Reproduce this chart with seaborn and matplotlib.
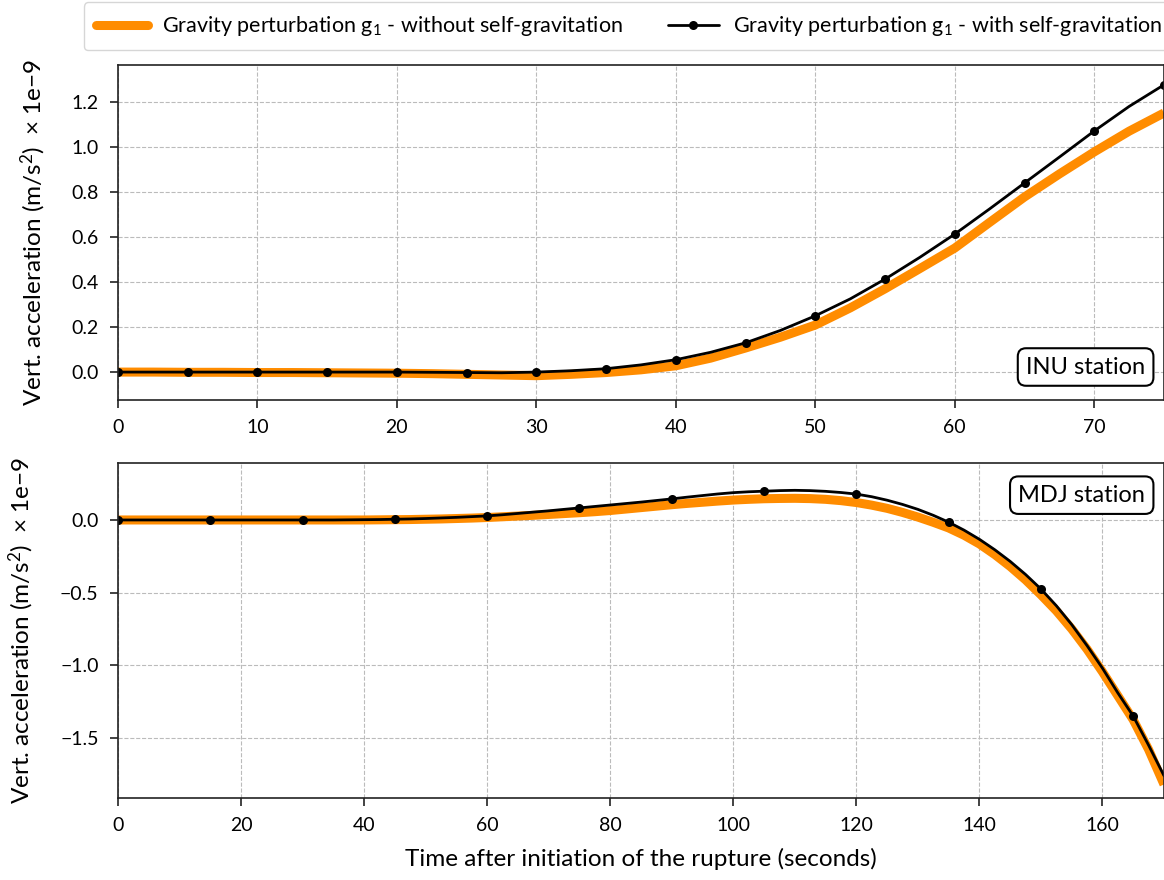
import numpy as np
import pandas as pd
import matplotlib
matplotlib.use("Agg")
import matplotlib.pyplot as plt
import seaborn as sns
from matplotlib.lines import Line2D

# ---------------- data ----------------
# INU station (time in s, values in 1e-9 m/s^2), every 2.5 s
inu_time = [0, 2.5, 5, 7.5, 10, 12.5, 15, 17.5, 20, 22.5, 25, 27.5, 30, 32.5, 35,
            37.5, 40, 42.5, 45, 47.5, 50, 52.5, 55, 57.5, 60, 62.5, 65, 67.5, 70, 72.5, 75]
inu_without = [0.0, 0.0, -0.001, -0.001, -0.002, -0.002, -0.003, -0.004, -0.005, -0.007, -0.010,
               -0.013, -0.016, -0.010, -0.002, 0.010, 0.028, 0.062, 0.107, 0.155, 0.209,
               0.285, 0.370, 0.460, 0.551, 0.665, 0.778, 0.880, 0.978, 1.070, 1.151]
inu_with = [0.0, 0.0, 0.0, 0.0, 0.0, 0.0, 0.0, 0.0, 0.0, -0.001, -0.002, -0.003, 0.0, 0.006,
            0.015, 0.032, 0.055, 0.088, 0.130, 0.185, 0.250, 0.325, 0.413, 0.510, 0.613,
            0.725, 0.840, 0.955, 1.071, 1.180, 1.276]

# MDJ station, every 2.5 s
mdj_time = [0, 2.5, 5, 7.5, 10, 12.5, 15, 17.5, 20, 22.5, 25, 27.5, 30, 32.5, 35, 37.5,
            40, 42.5, 45, 47.5, 50, 52.5, 55, 57.5, 60, 62.5, 65, 67.5, 70, 72.5, 75, 77.5,
            80, 82.5, 85, 87.5, 90, 92.5, 95, 97.5, 100, 102.5, 105, 107.5, 110, 112.5,
            115, 117.5, 120, 122.5, 125, 127.5, 130, 132.5, 135, 137.5, 140, 142.5, 145,
            147.5, 150, 152.5, 155, 157.5, 160, 162.5, 165, 167.5, 170]
mdj_without = [0.0, 0.0, 0.0, 0.0, 0.0, 0.0, 0.0, 0.0, 0.0, 0.0, 0.0, 0.0, 0.0, 0.0, 0.0, 0.0,
               0.0, 0.001, 0.002, 0.003, 0.005, 0.007, 0.010, 0.013, 0.017, 0.022, 0.027,
               0.032, 0.038, 0.044, 0.050, 0.057, 0.065, 0.075, 0.085, 0.095, 0.105, 0.114,
               0.122, 0.130, 0.137, 0.142, 0.146, 0.148, 0.149, 0.147, 0.142, 0.133, 0.120,
               0.102, 0.080, 0.052, 0.020, -0.016, -0.055, -0.105, -0.165, -0.238, -0.320,
               -0.412, -0.515, -0.625, -0.750, -0.890, -1.045, -1.210, -1.375, -1.580, -1.820]
mdj_with = [0.0, 0.0, 0.0, 0.0, 0.0, 0.0, 0.0, 0.0, 0.0, 0.0, 0.0, 0.0, 0.0, 0.0, 0.0, 0.001,
            0.002, 0.003, 0.005, 0.007, 0.010, 0.014, 0.018, 0.023, 0.028, 0.036, 0.045,
            0.054, 0.063, 0.073, 0.083, 0.093, 0.103, 0.113, 0.123, 0.134, 0.145, 0.157,
            0.168, 0.179, 0.188, 0.194, 0.198, 0.202, 0.204, 0.202, 0.197, 0.189, 0.178,
            0.160, 0.136, 0.107, 0.073, 0.032, -0.015, -0.070, -0.133, -0.205, -0.285,
            -0.375, -0.475, -0.590, -0.720, -0.865, -1.020, -1.190, -1.350, -1.550, -1.760]

label_without = r"Gravity perturbation g$_\mathregular{1}$ - without self-gravitation"
label_with = r"Gravity perturbation g$_\mathregular{1}$ - with self-gravitation"
ylabel = r"Vert. acceleration (m/s$^\mathregular{2}$)  $\times$ 1e$-$9"
xlabel = "Time after initiation of the rupture (seconds)"

# ---------------- style ----------------
sns.set_theme(style="ticks")
plt.rcParams["font.family"] = ["Lato", "DejaVu Sans"]
plt.rcParams["mathtext.fontset"] = "custom"
plt.rcParams["mathtext.rm"] = "Lato"
plt.rcParams["mathtext.it"] = "Lato:italic"
plt.rcParams["text.color"] = "black"
plt.rcParams["axes.labelcolor"] = "black"
plt.rcParams["xtick.color"] = "black"
plt.rcParams["ytick.color"] = "black"

ORANGE = "#ff8c00"

fig = plt.figure(figsize=(11.64, 8.8), dpi=100)
ax1 = fig.add_axes([118/1164, 1-400/880, 1.0-118/1164, 335/880])
ax2 = fig.add_axes([118/1164, 1-798/880, 1.0-118/1164, 335/880])

inu = pd.DataFrame({"t": inu_time, "without": inu_without, "with": inu_with})
mdj = pd.DataFrame({"t": mdj_time, "without": mdj_without, "with": mdj_with})

for ax, df, mev in [(ax1, inu, 2), (ax2, mdj, 6)]:
    sns.lineplot(data=df, x="t", y="without", ax=ax, color=ORANGE, linewidth=6.5,
                 solid_capstyle="butt")
    sns.lineplot(data=df, x="t", y="with", ax=ax, color="black", linewidth=2,
                 marker="o", markersize=6.5, markevery=mev, markeredgewidth=0)
    ax.grid(True, linestyle="--", color="#bbbbbb", linewidth=0.8)
    ax.set_axisbelow(True)
    for sp in ax.spines.values():
        sp.set_color("#222222")
        sp.set_linewidth(1.2)
    ax.tick_params(axis="both", labelsize=14, length=6, width=1.2, direction="out",
                   color="#222222", pad=8)
    ax.set_ylabel(ylabel, fontsize=17.5, labelpad=17)
    ax.set_xlabel("")

ax1.set_xlim(0, 75)
ax1.set_ylim(-0.124, 1.364)
ax1.set_xticks(np.arange(0, 71, 10))
ax1.set_yticks(np.arange(0, 1.21, 0.2))
ax1.set_yticklabels([f"{v:.1f}" for v in np.arange(0, 1.21, 0.2)])

ax2.set_xlim(0, 170)
ax2.set_ylim(-1.913, 0.392)
ax2.set_xticks(np.arange(0, 161, 20))
ax2.set_yticks([-1.5, -1.0, -0.5, 0.0])
ax2.set_yticklabels(["\u22121.5", "\u22121.0", "\u22120.5", "0.0"])
ax2.set_xlabel(xlabel, fontsize=17.5, labelpad=10)

box = dict(boxstyle="round,pad=0.35", fc="white", ec="black", lw=1.5)
ax1.text(0.982, 0.0985, "INU station", transform=ax1.transAxes, ha="right", va="center",
         fontsize=17, bbox=box)
ax2.text(0.982, 0.904, "MDJ station", transform=ax2.transAxes, ha="right", va="center",
         fontsize=17, bbox=box)

handles = [Line2D([], [], color=ORANGE, linewidth=6.5),
           Line2D([], [], color="black", linewidth=2, marker="o", markersize=6.5,
                  markeredgewidth=0)]
fig.legend(handles, [label_without, label_with], loc="lower left", ncol=2,
           bbox_to_anchor=(84/1164, 1-50/880), fontsize=15.5, frameon=True,
           edgecolor="#cccccc", fancybox=True, handlelength=2.4, handletextpad=0.65,
           columnspacing=2.1, borderpad=0.55, borderaxespad=0)

fig.savefig("out.png", dpi=100)
